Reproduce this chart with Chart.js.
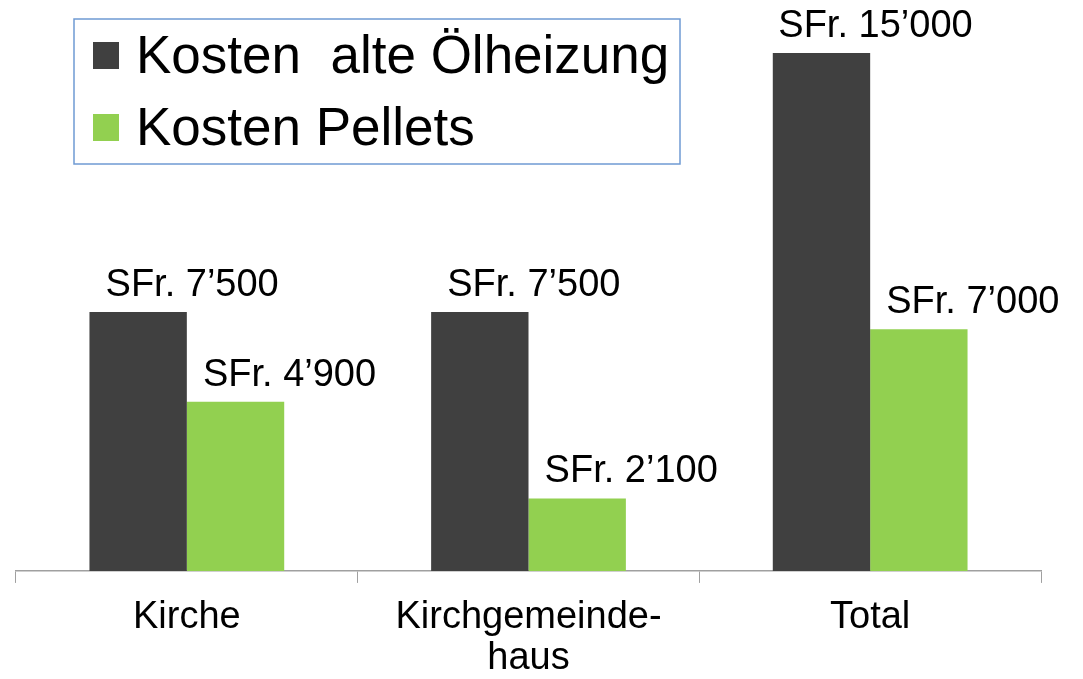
<!DOCTYPE html>
<html>
<head>
<meta charset="utf-8">
<script src="https://cdn.jsdelivr.net/npm/chart.js@4/dist/chart.umd.min.js"></script>
<style>
  html, body { margin: 0; padding: 0; background: #fff; }
  #wrap { width: 1083px; height: 679px; }
</style>
</head>
<body>
<div id="wrap"><canvas id="costChart" width="1083" height="679"></canvas></div>
<script>
// --- DATEN ---
const categories = ['Kirche', ['Kirchgemeinde-', 'haus'], 'Total'];
const seriesNames = ['Kosten  alte Ölheizung', 'Kosten Pellets'];
const oilCosts = [7500, 7500, 15000];
const pelletCosts = [4900, 2100, 7000];

const FONT = '"Liberation Sans", Arial, sans-serif';
const DARK = '#404040';
const GREEN = '#92D050';

function formatSFr(v) {
    // Tausender mit Apostroph (’)
    return 'SFr. ' + String(v).replace(/\B(?=(\d{3})+(?!\d))/g, '\u2019');
}

// Beschriftung über den Balken
const valueLabels = {
    id: 'valueLabels',
    afterDatasetsDraw(chart) {
        const ctx = chart.ctx;
        ctx.save();
        ctx.font = '38px ' + FONT;
        ctx.fillStyle = '#000';
        ctx.textAlign = 'center';
        ctx.textBaseline = 'alphabetic';
        chart.data.datasets.forEach((ds, di) => {
            chart.getDatasetMeta(di).data.forEach((bar, i) => {
                ctx.fillText(formatSFr(ds.data[i]), bar.x + 54, bar.y - 16);
            });
        });
        ctx.restore();
    }
};

// Legende mit blauem Rahmen
const boxedLegend = {
    id: 'boxedLegend',
    afterDraw(chart) {
        const ctx = chart.ctx;
        ctx.save();
        ctx.strokeStyle = '#6F9AD3';
        ctx.lineWidth = 1.5;
        ctx.strokeRect(74, 19, 606, 145);
        ctx.font = '53px ' + FONT;
        ctx.textBaseline = 'alphabetic';
        chart.data.datasets.forEach((ds, i) => {
            const y = 73 + i * 72;
            ctx.fillStyle = ds.backgroundColor;
            ctx.fillRect(93, y - 31, 26, 27);
            ctx.fillStyle = '#000';
            ctx.fillText(ds.label, 136, y);
        });
        ctx.restore();
    }
};

new Chart(document.getElementById('costChart'), {
    type: 'bar',
    data: {
        labels: categories,
        datasets: [
            { label: seriesNames[0], data: oilCosts, backgroundColor: DARK },
            { label: seriesNames[1], data: pelletCosts, backgroundColor: GREEN }
        ]
    },
    options: {
        responsive: false,
        animation: false,
        layout: { padding: { top: 18.5, left: 16, right: 42, bottom: 1 } },
        datasets: { bar: { barPercentage: 1, categoryPercentage: 0.57 } },
        scales: {
            x: {
                afterFit(scale) { scale.height -= 15; },
                grid: {
                    display: true,
                    offset: true,
                    drawOnChartArea: false,
                    drawTicks: true,
                    tickLength: 12,
                    color: '#A0A0A0'
                },
                border: { display: true, color: '#A0A0A0', width: 1.5 },
                ticks: {
                    color: '#000',
                    padding: 14,
                    maxRotation: 0,
                    font: { family: FONT, size: 38, lineHeight: 1.08 }
                }
            },
            y: { display: false, min: 0, max: 16000 }
        },
        plugins: {
            legend: { display: false },
            tooltip: { enabled: false }
        }
    },
    plugins: [valueLabels, boxedLegend]
});
</script>
</body>
</html>
